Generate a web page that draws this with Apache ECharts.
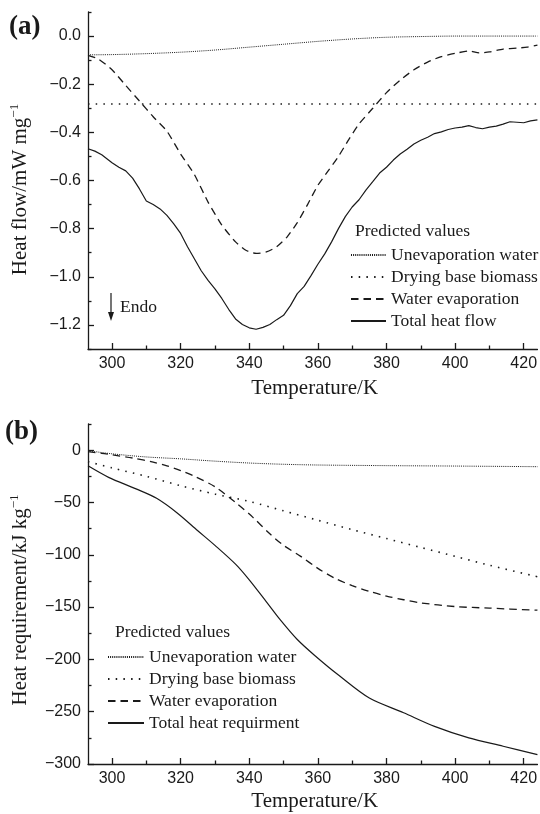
<!DOCTYPE html>
<html>
<head>
<meta charset="utf-8">
<script src="https://cdn.jsdelivr.net/npm/echarts@6/dist/echarts.min.js"></script>
<style>
html,body{margin:0;padding:0;background:#fff;}
#c{width:540px;height:814px;}
</style>
</head>
<body>
<div id="c"></div>
<script>
// ---------- Panel (a): heat flow, mW mg^-1 ----------
const aUnevapT = [293,300,310,320,330,340,350,360,370,380,390,400,410,424];
const aUnevapV = [-0.078,-0.077,-0.073,-0.067,-0.058,-0.046,-0.034,-0.022,-0.012,-0.005,-0.002,0.0,0.0,0.0];
const aDryT = [293,424];
const aDryV = [-0.282,-0.282];
const aEvapT = [293,296,300,304,308,312,316,320,324,328,332,336,339,342,345,348,351,354,357,360,363,366,369,372,376,380,384,388,392,396,400,404,407,410,414,418,421,424];
const aEvapV = [-0.080,-0.095,-0.140,-0.205,-0.270,-0.335,-0.395,-0.490,-0.575,-0.690,-0.785,-0.855,-0.890,-0.903,-0.897,-0.875,-0.835,-0.775,-0.700,-0.620,-0.560,-0.500,-0.430,-0.365,-0.300,-0.235,-0.183,-0.140,-0.108,-0.085,-0.072,-0.062,-0.070,-0.066,-0.054,-0.050,-0.046,-0.038];
const aTotalT = [293,295,297,300,302,304,306,308,310,312,314,316,318,320,322,324,326,328,330,332,334,336,338,340,342,344,346,348,350,352,354,356,358,360,362,364,366,368,370,372,374,376,378,380,382,384,386,388,390,392,394,396,398,400,402,404,406,408,410,412,414,416,418,420,422,424];
const aTotalV = [-0.468,-0.478,-0.493,-0.526,-0.545,-0.560,-0.590,-0.635,-0.685,-0.700,-0.718,-0.745,-0.780,-0.820,-0.875,-0.925,-0.975,-1.015,-1.050,-1.090,-1.135,-1.175,-1.198,-1.212,-1.218,-1.210,-1.198,-1.178,-1.160,-1.120,-1.070,-1.040,-0.995,-0.948,-0.905,-0.855,-0.800,-0.750,-0.710,-0.680,-0.640,-0.605,-0.569,-0.545,-0.515,-0.490,-0.470,-0.448,-0.433,-0.420,-0.405,-0.398,-0.388,-0.382,-0.378,-0.372,-0.380,-0.385,-0.378,-0.374,-0.366,-0.356,-0.358,-0.360,-0.352,-0.348];
const aYLabels = [-1.2,-1.0,-0.8,-0.6,-0.4,-0.2,0.0];
const aYMinor = [-1.3,-1.1,-0.9,-0.7,-0.5,-0.3,-0.1,0.1];

// ---------- Panel (b): heat requirement, kJ kg^-1 ----------
const bUnevapT = [293,300,310,320,330,340,350,360,380,400,424];
const bUnevapV = [-0.5,-3.5,-6.5,-8.3,-10.5,-12.3,-13.5,-14.2,-14.8,-15.2,-15.8];
const bDryT = [293,300,310,320,330,340,350,360,370,380,390,400,410,424];
const bDryV = [-11,-17,-25,-34,-42,-49,-58,-67,-76,-84.5,-93,-101.5,-110,-121];
const bEvapT = [293,297,300,306,312,316,320,324,330,336,341,346,350,355,360,365,370,375,380,385,390,400,410,424];
const bEvapV = [-1.5,-3,-4.5,-7.5,-11.5,-15,-19.5,-25,-35,-50,-64,-80,-91,-101.5,-113,-122.5,-129.5,-135,-139.5,-143,-146,-149.5,-151,-153];
const bTotalT = [293,299,307,313,319,325,330,336,340,345,349,354,359,366,375,385,394,404,414,424];
const bTotalV = [-15,-26,-37,-46,-60,-77,-91,-109,-124,-145,-162,-181,-196,-215,-237,-251,-264,-275,-283,-291];
const bYLabels = [-300,-250,-200,-150,-100,-50,0];
const bYMinor = [-275,-225,-175,-125,-75,-25,25];

const xLabels = [300,320,340,360,380,400,420];
const xMinor = [310,330,350,370,390,410];

const namesA = ['Unevaporation water','Drying base biomass','Water evaporation','Total heat flow'];
const namesB = ['Unevaporation water','Drying base biomass','Water evaporation','Total heat requirment'];

const SANS = 'Liberation Sans';
const SERIF = 'Liberation Serif';
const INK = '#1a1a1a';

const styles = {
  unevap: {type:[1,1.1], width:1, color:INK},
  dry: {type:[1.5,6.2], width:1.6, color:INK},
  evap: {type:[7.5,5], width:1.3, color:INK},
  total: {type:'solid', width:1.2, color:INK}
};

function pairs(t, v){ return t.map((x,i)=>[x,v[i]]); }
function minusFmt(d){ return function(v){ return (v<0?'\u2212':'') + (d>0?Math.abs(v).toFixed(d):String(Math.abs(v))); }; }

function mainX(grid, nameGap){
  return {
    type:'value', gridIndex:grid, min:293, max:424, position:'bottom',
    name:'Temperature/K', nameLocation:'middle', nameGap:nameGap,
    nameTextStyle:{fontFamily:SERIF, fontSize:21, color:INK, padding:[0,0,0,4]},
    axisLine:{show:true, onZero:false, lineStyle:{color:INK, width:1.3}},
    axisTick:{show:true, inside:true, length:6, customValues:xLabels, lineStyle:{color:INK, width:1.3}},
    axisLabel:{customValues:xLabels, fontFamily:SANS, fontSize:16, color:INK, margin:7},
    splitLine:{show:false}
  };
}
function minorX(grid){
  return {
    type:'value', gridIndex:grid, min:293, max:424, position:'bottom', offset:0,
    axisLine:{show:false, onZero:false}, axisLabel:{show:false}, splitLine:{show:false},
    axisTick:{show:true, inside:true, length:3.5, customValues:xMinor, lineStyle:{color:INK, width:1.3}}
  };
}
function mainY(grid, min, max, labels, dec, nameRich, nameGap, shift){
  return {
    type:'value', gridIndex:grid, min:min, max:max, position:'left',
    name:nameRich, nameLocation:'middle', nameGap:nameGap,
    nameTextStyle:{fontFamily:SERIF, fontSize:21, color:INK, padding:[0,shift,0,0],
      rich:{m:{fontFamily:SERIF, fontSize:21, color:INK, lineHeight:24},
            s:{fontFamily:SERIF, fontSize:13, color:INK, lineHeight:24, verticalAlign:'top'}}},
    axisLine:{show:true, onZero:false, lineStyle:{color:INK, width:1.3}},
    axisTick:{show:true, inside:true, length:6, customValues:labels, lineStyle:{color:INK, width:1.3}},
    axisLabel:{customValues:labels, formatter:minusFmt(dec), fontFamily:SANS, fontSize:16, color:INK, margin:7},
    splitLine:{show:false}
  };
}
function minorY(grid, min, max, vals){
  return {
    type:'value', gridIndex:grid, min:min, max:max, position:'left', offset:0,
    axisLine:{show:false, onZero:false}, axisLabel:{show:false}, splitLine:{show:false},
    axisTick:{show:true, inside:true, length:3.5, customValues:vals, lineStyle:{color:INK, width:1.3}}
  };
}
function line(name, data, xi, yi, ls, smooth){
  return {type:'line', name:name, data:data, xAxisIndex:xi, yAxisIndex:yi,
    symbol:'none', showSymbol:false, smooth:smooth||false, lineStyle:ls, itemStyle:{color:INK}, z:3, silent:true};
}
const legendCommon = {
  orient:'vertical', padding:5, itemWidth:35, itemHeight:12, itemGap:4, selectedMode:false,
  itemStyle:{opacity:0, color:'rgba(0,0,0,0)', borderColor:'rgba(0,0,0,0)', borderWidth:0},
  textStyle:{fontFamily:SERIF, fontSize:17.5, color:INK, lineHeight:18}
};

const option = {
  animation:false,
  backgroundColor:'#fff',
  grid:[
    {left:86, top:12, width:453, height:337, containLabel:false},
    {left:86, top:424, width:453, height:340, containLabel:false}
  ],
  xAxis:[mainX(0,29), minorX(0), mainX(1,27), minorX(1)],
  yAxis:[
    mainY(0,-1.3,0.1,aYLabels,1,'{m|Heat flow/mW mg}{s|\u22121}',56,18),
    minorY(0,-1.3,0.1,aYMinor),
    mainY(1,-300,25,bYLabels,0,'{m|Heat requirement/kJ kg}{s|\u22121}',56,12),
    minorY(1,-300,25,bYMinor)
  ],
  legend:[
    Object.assign({}, legendCommon, {left:345, top:241, data:namesA}),
    Object.assign({}, legendCommon, {left:102, top:643, itemWidth:36, data:namesB})
  ],
  graphic:[
    {type:'text', left:9, top:14, style:{text:'(a)', font:'bold 27px "Liberation Serif"', fill:INK}},
    {type:'text', left:5, top:419, style:{text:'(b)', font:'bold 27px "Liberation Serif"', fill:INK}},
    {type:'text', left:355, top:222, style:{text:'Predicted values', font:'17.5px "Liberation Serif"', fill:INK}},
    {type:'text', left:115, top:623, style:{text:'Predicted values', font:'17.5px "Liberation Serif"', fill:INK}},
    {type:'line', shape:{x1:111, y1:293, x2:111, y2:314}, style:{stroke:INK, lineWidth:1.2}},
    {type:'polygon', shape:{points:[[108,312],[114,312],[111,321]]}, style:{fill:INK}},
    {type:'text', left:120, top:298, style:{text:'Endo', font:'17.5px "Liberation Serif"', fill:INK}}
  ],
  series:[
    line(namesA[0], pairs(aUnevapT,aUnevapV), 0, 0, styles.unevap, 0.3),
    line(namesA[1], pairs(aDryT,aDryV), 0, 0, styles.dry),
    line(namesA[2], pairs(aEvapT,aEvapV), 0, 0, styles.evap, 0.2),
    line(namesA[3], pairs(aTotalT,aTotalV), 0, 0, styles.total),
    line(namesB[0], pairs(bUnevapT,bUnevapV), 2, 2, styles.unevap, 0.3),
    line(namesB[1], pairs(bDryT,bDryV), 2, 2, styles.dry, 0.3),
    line(namesB[2], pairs(bEvapT,bEvapV), 2, 2, styles.evap, 0.3),
    line(namesB[3], pairs(bTotalT,bTotalV), 2, 2, styles.total, 0.3)
  ]
};
const chart = echarts.init(document.getElementById('c'), null, {renderer:'canvas'});
chart.setOption(option);
</script>
</body>
</html>
